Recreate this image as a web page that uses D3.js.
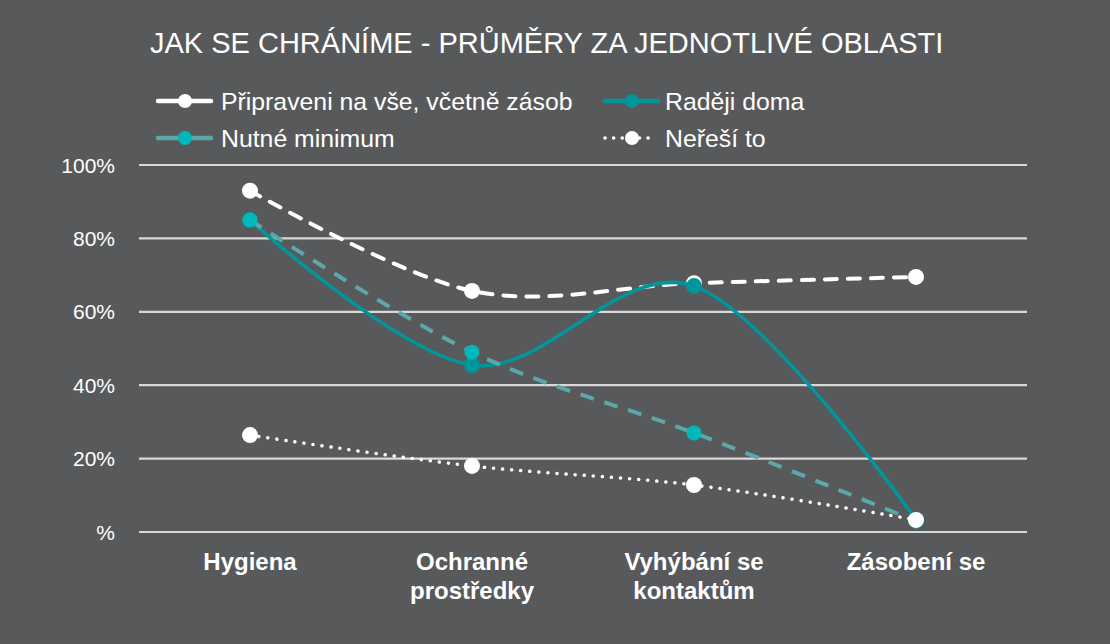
<!DOCTYPE html>
<html><head><meta charset="utf-8">
<script src="https://cdn.jsdelivr.net/npm/d3@7"></script>
<style>
html,body{margin:0;padding:0;background:#58595b;}
svg{display:block;font-family:"Liberation Sans",Arial,sans-serif;}
</style></head>
<body><svg id="c" width="1110" height="644"></svg>
<script>
const categories = ["Hygiena", "Ochranné\nprostředky", "Vyhýbání se\nkontaktům", "Zásobení se"];
const pripraveni = [0.93, 0.657, 0.678, 0.695];
const radejiDoma = [0.85, 0.455, 0.67, 0.033];
const nutneMinimum = [0.85, 0.49, 0.27, 0.03];
const neresi = [0.264, 0.18, 0.128, 0.033];
const yTicks = [0, 0.2, 0.4, 0.6, 0.8, 1.0];
const yTickLabels = ["%", "20%", "40%", "60%", "80%", "100%"];
const seriesNames = ["Připraveni na vše, včetně zásob", "Raději doma", "Nutné minimum", "Neřeší to"];
const title = "JAK SE CHRÁNÍME - PRŮMĚRY ZA JEDNOTLIVÉ OBLASTI";

const svg = d3.select("#c");
const W = 1110, H = 644;
const mLeft = 139, mRight = 1027, mTop = 165, mBottom = 532;

svg.append("rect").attr("width", W).attr("height", H).attr("fill", "#58595b");

const x = d3.scaleBand().domain(categories).range([mLeft, mRight]);
const y = d3.scaleLinear().domain([0, 1]).range([mBottom, mTop]);

// gridlines
svg.append("g").selectAll("line").data(yTicks).join("line")
  .attr("x1", mLeft).attr("x2", mRight)
  .attr("y1", d => y(d)).attr("y2", d => y(d))
  .attr("stroke", "#d9d9d9").attr("stroke-width", 2.2);

// y labels
svg.append("g").selectAll("text").data(yTicks).join("text")
  .attr("x", 115).attr("y", d => y(d)).attr("dy", "0.36em")
  .attr("text-anchor", "end").attr("fill", "#ffffff")
  .attr("font-size", 21)
  .text((d, i) => yTickLabels[i]);

// x labels
const xl = svg.append("g").selectAll("text").data(categories).join("text")
  .attr("x", d => x(d) + x.bandwidth() / 2).attr("y", 570)
  .attr("text-anchor", "middle").attr("fill", "#ffffff")
  .attr("font-size", 24).attr("font-weight", "bold");
xl.each(function(d) {
  const lines = d.split("\n");
  const t = d3.select(this);
  lines.forEach((l, i) => t.append("tspan").attr("x", x(d) + x.bandwidth() / 2).attr("dy", i === 0 ? 0 : 29).text(l));
});

// title
svg.append("text").attr("x", 150).attr("y", 53).attr("fill", "#ffffff")
  .attr("font-size", 29).text(title);

const cx = d => x(d) + x.bandwidth() / 2;
const series = [
  {name: seriesNames[0], values: pripraveni, stroke: "#ffffff", width: 4, dash: "12 11", cap: "round", marker: "#ffffff", r: 8},
  {name: seriesNames[1], values: radejiDoma, stroke: "#00969b", width: 3.6, dash: null, cap: "round", marker: "#00959a", r: 8},
  {name: seriesNames[2], values: nutneMinimum, stroke: "#5ba7aa", width: 4, dash: "14 11", cap: "butt", marker: "#00b7ba", r: 7.5},
  {name: seriesNames[3], values: neresi, stroke: "#ffffff", width: 3.5, dash: "0.1 9", cap: "round", marker: "#ffffff", r: 8}
];

const line = d3.line().x(d => cx(d.c)).y(d => y(d.v)).curve(d3.curveCatmullRom.alpha(0));

series.forEach(s => {
  const pts = categories.map((c, i) => ({c, v: s.values[i]}));
  const g = svg.append("g");
  g.append("path").attr("d", line(pts)).attr("fill", "none")
    .attr("stroke", s.stroke).attr("stroke-width", s.width)
    .attr("stroke-dasharray", s.dash).attr("stroke-linecap", s.cap);
  g.selectAll("circle").data(pts).join("circle")
    .attr("cx", d => cx(d.c)).attr("cy", d => y(d.v)).attr("r", s.r)
    .attr("fill", s.marker);
});

// legend
const legendPos = [[158, 101], [603, 101], [158, 138], [603, 138]];
series.forEach((s, i) => {
  const [lx, ly] = legendPos[i];
  const g = svg.append("g").attr("transform", `translate(${lx},${ly})`);
  if (i === 3) {
    g.append("line").attr("x1", 2).attr("x2", 53).attr("y1", 0).attr("y2", 0)
      .attr("stroke", s.stroke).attr("stroke-width", 3.5)
      .attr("stroke-dasharray", "0.1 8.5").attr("stroke-linecap", "round");
  } else {
    g.append("line").attr("x1", 0).attr("x2", i === 1 ? 57 : 53).attr("y1", 0).attr("y2", 0)
      .attr("stroke", s.stroke).attr("stroke-width", 4.5).attr("stroke-linecap", i === 1 ? "butt" : "round");
  }
  g.append("circle").attr("cx", i % 2 === 1 ? 29 : 27).attr("cy", 0).attr("r", 7).attr("fill", s.marker);
  g.append("text").attr("x", i % 2 === 1 ? 62 : 63).attr("y", 0).attr("dy", "0.36em")
    .attr("fill", "#ffffff").attr("font-size", 24.8).text(s.name);
});
</script>
</body></html>
